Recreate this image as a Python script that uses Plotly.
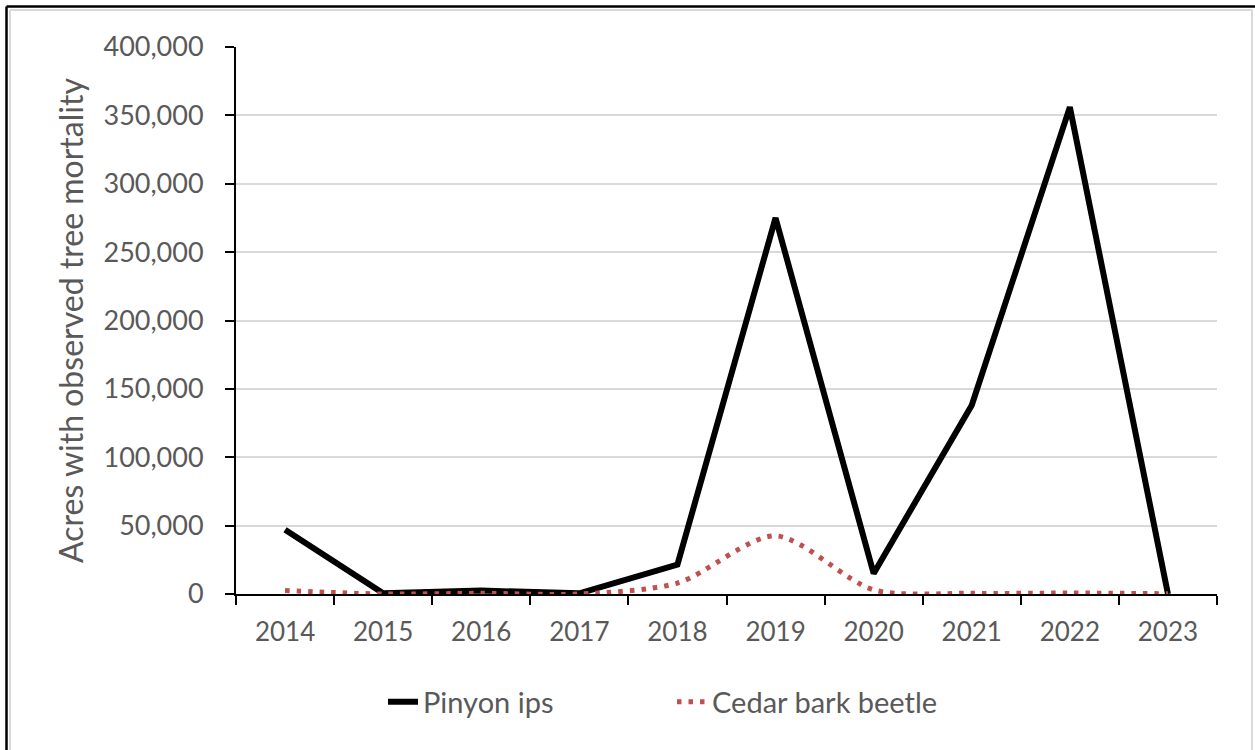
import plotly.graph_objects as go

years = ["2014", "2015", "2016", "2017", "2018", "2019", "2020", "2021", "2022", "2023"]
pinyon_ips = [47000, 500, 2500, 500, 21500, 275000, 15000, 138000, 356000, 0]
cedar_bark_beetle = [2500, 0, 500, 0, 8000, 42500, 3000, 500, 700, 200]
y_ticks = [0, 50000, 100000, 150000, 200000, 250000, 300000, 350000, 400000]
y_tick_text = ["0", "50,000", "100,000", "150,000", "200,000", "250,000", "300,000", "350,000", "400,000"]

FONT = "Lato, 'Noto Sans', sans-serif"
GREY = "#595959"

fig = go.Figure()
fig.add_trace(go.Scatter(
    x=years, y=pinyon_ips, name="Pinyon ips", mode="lines",
    line=dict(color="black", width=6),
))
fig.add_trace(go.Scatter(
    x=years, y=cedar_bark_beetle, name="Cedar bark beetle", mode="lines",
    line=dict(color="#C0504D", width=5, dash="4.5px,7px", shape="spline", smoothing=0.8),
))

def px_x(px):
    return (px - 236) / 981

def px_y(py):
    return (594 - py) / 547

fig.update_layout(
    width=1255, height=750,
    margin=dict(l=236, r=38, t=47, b=156),
    paper_bgcolor="white", plot_bgcolor="white",
    font=dict(family=FONT, size=26, color=GREY),
    showlegend=True,
    legend=dict(orientation="h", x=px_x(383), xanchor="left", y=px_y(702), yanchor="middle",
                font=dict(family=FONT, size=29, color=GREY), entrywidth=244, entrywidthmode="pixels",
                bgcolor="rgba(0,0,0,0)"),
    xaxis=dict(
        type="category", range=[-0.5, 9.5], tickson="boundaries",
        showline=True, linecolor="black", linewidth=2,
        ticks="outside", ticklen=9, tickwidth=2, tickcolor="black",
        ticklabelstandoff=14,
        showgrid=False, tickfont=dict(family=FONT, size=26, color=GREY),
    ),
    yaxis=dict(
        range=[0, 400000], tickvals=y_ticks, ticktext=y_tick_text,
        showline=True, linecolor="black", linewidth=2,
        ticks="outside", ticklen=9, tickwidth=2, tickcolor="black",
        ticklabelstandoff=16,
        showgrid=True, gridcolor="#d9d9d9", gridwidth=1.5,
        zeroline=False,
        tickfont=dict(family=FONT, size=27, color=GREY),
        title=dict(text="Acres with observed tree mortality", standoff=10,
                   font=dict(family=FONT, size=32, color=GREY)),
    ),
)

# outer frame (black top/left, grey inner/right)
fig.add_shape(type="line", xref="paper", yref="paper", x0=px_x(10), x1=px_x(1252), y0=px_y(10), y1=px_y(10),
              line=dict(color="#d9d9d9", width=2))
fig.add_shape(type="line", xref="paper", yref="paper", x0=px_x(10), x1=px_x(10), y0=px_y(10), y1=px_y(760),
              line=dict(color="#d9d9d9", width=2))
fig.add_shape(type="line", xref="paper", yref="paper", x0=px_x(1252), x1=px_x(1252), y0=px_y(10), y1=px_y(760),
              line=dict(color="#d9d9d9", width=2))
fig.add_shape(type="line", xref="paper", yref="paper", x0=px_x(6.5), x1=px_x(1260), y0=px_y(6.5), y1=px_y(6.5),
              line=dict(color="black", width=2.5))
fig.add_shape(type="line", xref="paper", yref="paper", x0=px_x(6.5), x1=px_x(6.5), y0=px_y(6.5), y1=px_y(760),
              line=dict(color="black", width=2.5))

fig.write_html("out.html", config={"displayModeBar": False},
               post_script="document.body.style.margin='0';document.body.style.overflow='hidden';")
